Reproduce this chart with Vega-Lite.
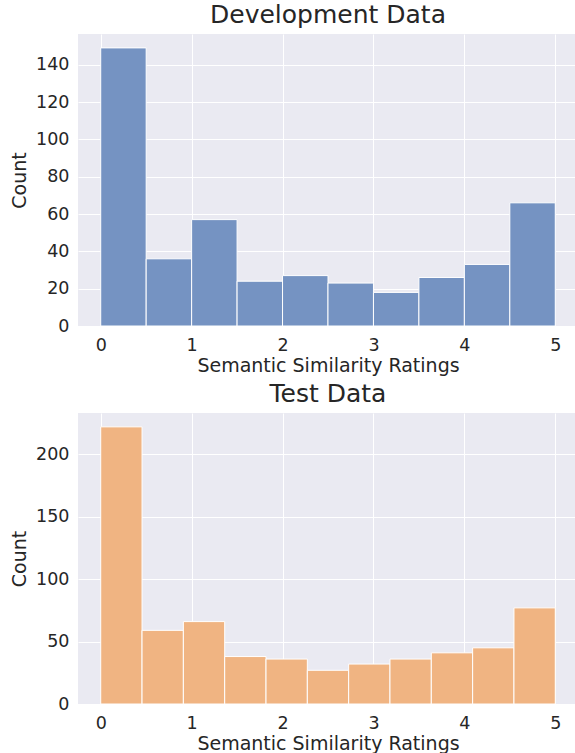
{
  "$schema": "https://vega.github.io/schema/vega-lite/v6.json",
  "padding": {"left": 10, "top": 3, "right": 0, "bottom": 0},
  "autosize": {"type": "pad"},
  "spacing": 6,
  "config": {
    "view": {"fill": "#EAEAF2", "stroke": null},
    "axis": {
      "grid": true, "gridColor": "#FFFFFF", "gridWidth": 1, "domain": false, "ticks": false,
      "labelFont": "DejaVu Sans", "labelFontSize": 17.5, "labelColor": "#262626", "labelPadding": 9,
      "titleFont": "DejaVu Sans", "titleFontSize": 19, "titleFontWeight": "normal", "titleColor": "#262626", "titlePadding": 6
    },
    "axisX": {"labelPadding": 10, "titlePadding": 3},
    "title": {"font": "DejaVu Sans", "fontSize": 25, "fontWeight": "normal", "color": "#262626", "offset": 6}
  },
  "datasets": {
    "dev": [
      {"bin_start": 0.0, "bin_end": 0.5, "count": 149},
      {"bin_start": 0.5, "bin_end": 1.0, "count": 36},
      {"bin_start": 1.0, "bin_end": 1.5, "count": 57},
      {"bin_start": 1.5, "bin_end": 2.0, "count": 24},
      {"bin_start": 2.0, "bin_end": 2.5, "count": 27},
      {"bin_start": 2.5, "bin_end": 3.0, "count": 23},
      {"bin_start": 3.0, "bin_end": 3.5, "count": 18},
      {"bin_start": 3.5, "bin_end": 4.0, "count": 26},
      {"bin_start": 4.0, "bin_end": 4.5, "count": 33},
      {"bin_start": 4.5, "bin_end": 5.0, "count": 66}
    ],
    "test": [
      {"bin_start": 0.0, "bin_end": 0.4545, "count": 222},
      {"bin_start": 0.4545, "bin_end": 0.9091, "count": 59},
      {"bin_start": 0.9091, "bin_end": 1.3636, "count": 66},
      {"bin_start": 1.3636, "bin_end": 1.8182, "count": 38},
      {"bin_start": 1.8182, "bin_end": 2.2727, "count": 36},
      {"bin_start": 2.2727, "bin_end": 2.7273, "count": 27},
      {"bin_start": 2.7273, "bin_end": 3.1818, "count": 32},
      {"bin_start": 3.1818, "bin_end": 3.6364, "count": 36},
      {"bin_start": 3.6364, "bin_end": 4.0909, "count": 41},
      {"bin_start": 4.0909, "bin_end": 4.5455, "count": 45},
      {"bin_start": 4.5455, "bin_end": 5.0, "count": 77}
    ]
  },
  "vconcat": [
    {
      "title": "Development Data",
      "width": 500,
      "height": 292,
      "data": {"name": "dev"},
      "mark": {"type": "rect", "fill": "#7593C2", "stroke": "#FFFFFF", "strokeWidth": 1},
      "encoding": {
        "x": {"field": "bin_start", "type": "quantitative", "title": "Semantic Similarity Ratings",
              "scale": {"domain": [-0.25, 5.25], "nice": false, "zero": false},
              "axis": {"values": [0, 1, 2, 3, 4, 5], "format": "d"}},
        "x2": {"field": "bin_end"},
        "y": {"field": "count", "type": "quantitative", "title": "Count",
              "scale": {"domain": [0, 156.45], "nice": false},
              "axis": {"values": [0, 20, 40, 60, 80, 100, 120, 140]}},
        "y2": {"datum": 0}
      }
    },
    {
      "title": "Test Data",
      "width": 500,
      "height": 291,
      "data": {"name": "test"},
      "mark": {"type": "rect", "fill": "#F0B482", "stroke": "#FFFFFF", "strokeWidth": 1},
      "encoding": {
        "x": {"field": "bin_start", "type": "quantitative", "title": "Semantic Similarity Ratings",
              "scale": {"domain": [-0.25, 5.25], "nice": false, "zero": false},
              "axis": {"values": [0, 1, 2, 3, 4, 5], "format": "d"}},
        "x2": {"field": "bin_end"},
        "y": {"field": "count", "type": "quantitative", "title": "Count",
              "scale": {"domain": [0, 233.1], "nice": false},
              "axis": {"values": [0, 50, 100, 150, 200]}},
        "y2": {"datum": 0}
      }
    }
  ]
}
